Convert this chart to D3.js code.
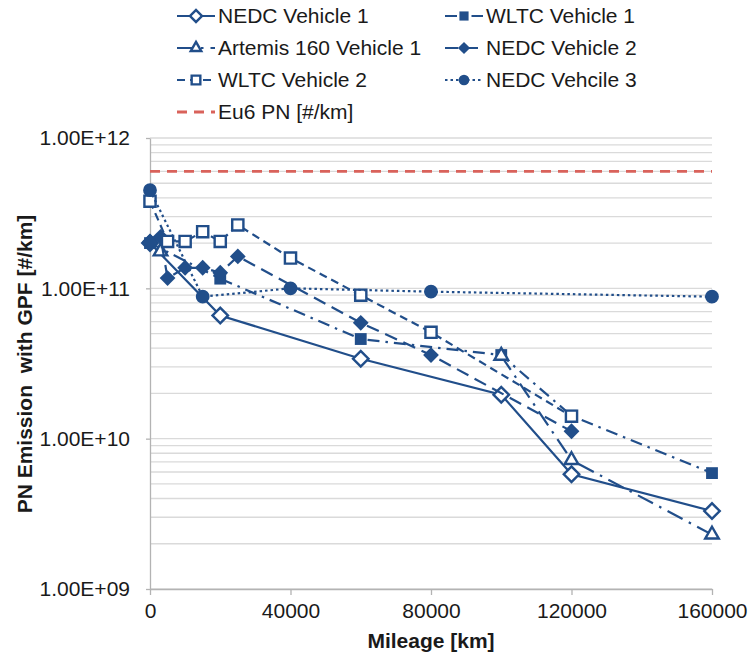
<!DOCTYPE html>
<html>
<head>
<meta charset="utf-8">
<script src="https://cdn.jsdelivr.net/npm/d3@7/dist/d3.min.js"></script>
<style>
  body { margin: 0; background: #fff; }
  text { font-family: "Liberation Sans", Arial, sans-serif; fill: #1a1a1a; }
</style>
</head>
<body>
<script>
'use strict';

// readings taken off the figure: mileage [km] and PN [#/km]
const kmNedcV1 = [0, 20000, 60000, 100000, 120000, 160000];
const pnNedcV1 = [2.0e11, 6.6e10, 3.4e10, 1.96e10, 5.8e9, 3.3e9];

const kmWltcV1 = [0, 20000, 60000, 100000, 120000, 160000];
const pnWltcV1 = [2.0e11, 1.16e11, 4.6e10, 3.6e10, 1.42e10, 5.9e9];

// null = no reading, the line has a gap there
const kmArtemisV1 = [3000, 50000, 100000, 120000, 160000];
const pnArtemisV1 = [1.76e11, null, 3.56e10, 7.2e9, 2.3e9];

const kmNedcV2 = [0, 3000, 5000, 10000, 15000, 20000, 25000, 60000, 80000, 120000];
const pnNedcV2 = [2.05e11, 2.2e11, 1.17e11, 1.37e11, 1.37e11, 1.27e11, 1.63e11, 5.9e10, 3.6e10, 1.12e10];

const kmWltcV2 = [0, 5000, 10000, 15000, 20000, 25000, 40000, 60000, 80000, 120000];
const pnWltcV2 = [3.8e11, 2.05e11, 2.05e11, 2.38e11, 2.05e11, 2.64e11, 1.59e11, 9.0e10, 5.1e10, 1.41e10];

const kmNedcV3 = [0, 15000, 40000, 80000, 160000];
const pnNedcV3 = [4.5e11, 8.8e10, 1.0e11, 9.5e10, 8.8e10];

const eu6Limit = 6e11;

const seriesNames = ["NEDC Vehicle 1", "WLTC Vehicle 1", "Artemis 160 Vehicle 1",
  "NEDC Vehicle 2", "WLTC Vehicle 2", "NEDC Vehcile 3"];
const eu6Name = "Eu6 PN [#/km]";

const xTicks = [0, 40000, 80000, 120000, 160000];
const yTicks = [1e9, 1e10, 1e11, 1e12];
const yTickLabels = ["1.00E+09", "1.00E+10", "1.00E+11", "1.00E+12"];

(function() {

  const blue = "#214e8a";
  const red = "#d9625b";
  const axisGrey = "#b3b3b3";
  const gridGrey = "#dadada";

  // marker + dash style per series, same order as seriesNames
  const styles = [
    {shape: "diamond", filled: false, size: 120, dash: null},
    {shape: "square", filled: true, size: 140, dash: "12,6,2.5,6"},
    {shape: "triangle", filled: false, size: 80, dash: "17,7,2.5,7"},
    {shape: "diamond", filled: true, size: 125, dash: "13,7"},
    {shape: "square", filled: false, size: 125, dash: "8,5"},
    {shape: "circle", filled: true, size: 150, dash: "2.5,3"}
  ];

  let svg = "";
  let x = null;
  let y = null;

  window.onload = function() {
    svg = d3.select("body")
      .append("svg")
      .attr("width", 752)
      .attr("height", 659);

    x = d3.scaleLinear().domain([0, 160000]).range([150, 712]);
    y = d3.scaleLog().domain([1e9, 1e12]).range([589, 138]);

    let allSeries = [
      zip(kmNedcV1, pnNedcV1),
      zip(kmWltcV1, pnWltcV1),
      zip(kmArtemisV1, pnArtemisV1),
      zip(kmNedcV2, pnNedcV2),
      zip(kmWltcV2, pnWltcV2),
      zip(kmNedcV3, pnNedcV3)
    ];

    makeGrid();
    makeAxes();
    plotLimit();
    allSeries.forEach((data, i) => plotSeries(data, styles[i]));
    makeLegend();
    makeLabels();
  }

  function zip(km, pn) {
    return km.map((k, i) => ({km: k, pn: pn[i]}));
  }

  // horizontal grid lines at every log tick (1..9 per decade)
  function makeGrid() {
    svg.append("g")
      .selectAll("line")
      .data(y.ticks())
      .enter()
      .append("line")
      .attr("x1", x(0))
      .attr("x2", x(160000))
      .attr("y1", d => y(d))
      .attr("y2", d => y(d))
      .attr("stroke", gridGrey)
      .attr("stroke-width", 1.3);
  }

  function makeAxes() {
    let yAxis = d3.axisLeft(y)
      .tickValues(yTicks)
      .tickFormat((d, i) => yTickLabels[i])
      .tickSize(4)
      .tickSizeOuter(0)
      .tickPadding(16);

    let xAxis = d3.axisBottom(x)
      .tickValues(xTicks)
      .tickFormat(d3.format("d"))
      .tickSize(6)
      .tickSizeOuter(0)
      .tickPadding(8);

    let gy = svg.append("g")
      .attr("transform", "translate(" + x(0) + ",0)")
      .call(yAxis);
    let gx = svg.append("g")
      .attr("transform", "translate(0," + y(1e9) + ")")
      .call(xAxis);

    [gx, gy].forEach(g => {
      g.attr("font-size", null).attr("font-family", null);
      g.selectAll("path, line").attr("stroke", axisGrey).attr("stroke-width", 1.3);
      g.selectAll("text").style("font-size", "21px").attr("fill", "#1a1a1a");
    });
  }

  function plotLimit() {
    svg.append("line")
      .attr("x1", x(0))
      .attr("x2", x(160000))
      .attr("y1", y(eu6Limit))
      .attr("y2", y(eu6Limit))
      .attr("stroke", red)
      .attr("stroke-width", 2.8)
      .attr("stroke-dasharray", "10,7");
  }

  function markerPath(style, scale) {
    let types = {diamond: d3.symbolSquare, square: d3.symbolSquare,
      triangle: d3.symbolTriangle, circle: d3.symbolCircle};
    return d3.symbol(types[style.shape], style.size * scale)();
  }

  function drawMarker(g, cx, cy, style, scale) {
    g.append("path")
      .attr("d", markerPath(style, scale))
      .attr("transform", "translate(" + cx + "," + cy + ")" +
        (style.shape === "diamond" ? " rotate(45)" : ""))
      .attr("fill", style.filled ? blue : "#fff")
      .attr("stroke", blue)
      .attr("stroke-width", style.filled ? 0 : 2.4);
  }

  // line first, then markers on top, one series after the other
  function plotSeries(data, style) {
    let g = svg.append("g");
    let line = d3.line()
      .defined(d => d.pn != null)
      .x(d => x(d.km))
      .y(d => y(d.pn));

    g.append("path")
      .datum(data)
      .attr("fill", "none")
      .attr("stroke", blue)
      .attr("stroke-width", 2.2)
      .attr("stroke-dasharray", style.dash)
      .attr("d", line);

    data.filter(d => d.pn != null)
      .forEach(d => drawMarker(g, x(d.km), y(d.pn), style, 1));
  }

  function makeLegend() {
    let cols = [177, 445];
    let rows = [16, 48, 80, 112];
    let g = svg.append("g");

    seriesNames.forEach((name, i) => {
      let lx = cols[i % 2];
      let ly = rows[Math.floor(i / 2)];
      g.append("line")
        .attr("x1", lx).attr("x2", lx + 38)
        .attr("y1", ly).attr("y2", ly)
        .attr("stroke", blue)
        .attr("stroke-width", 2.2)
        .attr("stroke-dasharray", styles[i].dash);
      drawMarker(g, lx + 19, ly, styles[i], 0.6);
      g.append("text")
        .attr("x", lx + 41)
        .attr("y", ly)
        .attr("dy", "0.35em")
        .style("font-size", "21px")
        .text(name);
    });

    g.append("line")
      .attr("x1", cols[0]).attr("x2", cols[0] + 38)
      .attr("y1", rows[3]).attr("y2", rows[3])
      .attr("stroke", red)
      .attr("stroke-width", 2.8)
      .attr("stroke-dasharray", "10,7");
    g.append("text")
      .attr("x", cols[0] + 41)
      .attr("y", rows[3])
      .attr("dy", "0.35em")
      .style("font-size", "21px")
      .text(eu6Name);
  }

  // axis titles
  function makeLabels() {
    svg.append("text")
      .attr("x", 431)
      .attr("y", 648)
      .attr("text-anchor", "middle")
      .style("font-size", "21px")
      .style("font-weight", "bold")
      .text("Mileage [km]");

    svg.append("text")
      .attr("transform", "translate(32,364)rotate(-90)")
      .attr("text-anchor", "middle")
      .style("font-size", "21px")
      .style("font-weight", "bold")
      .style("white-space", "pre")
      .text("PN Emission  with GPF [#/km]");
  }
})();
</script>
</body>
</html>
